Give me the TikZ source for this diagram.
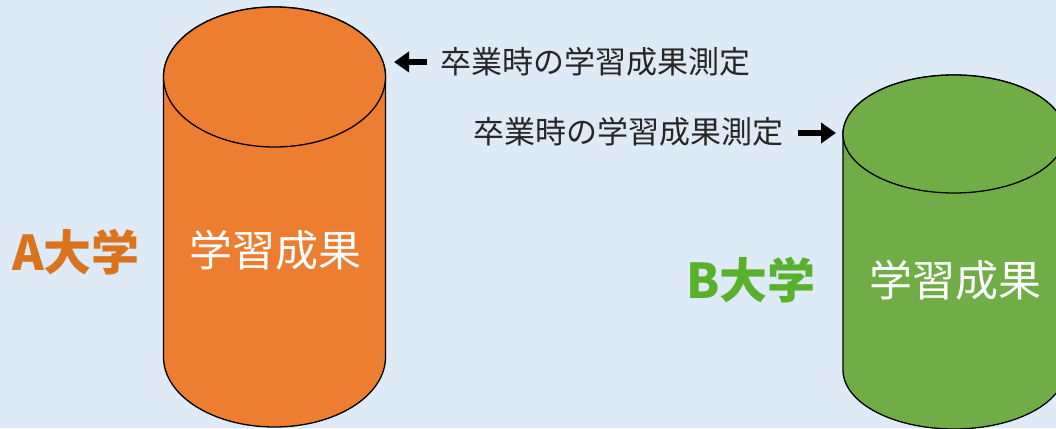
\documentclass[tikz,border=0pt]{standalone}
\usepackage{fontspec}
\setmainfont{Noto Sans CJK JP}
\usetikzlibrary{arrows.meta}
\definecolor{bg}{HTML}{DEEAF6}
\definecolor{orangefill}{HTML}{ED7D31}
\definecolor{greenfill}{HTML}{70AD47}
\definecolor{orangetext}{RGB}{217,115,30}
\definecolor{greentext}{RGB}{88,176,44}
\tikzset{
  cyl/.style={draw=black, line width=1.3pt},
  inner/.style={text=white, font=\fontsize{43}{43}\selectfont, inner sep=0pt},
  uni/.style={font=\bfseries\fontsize{48}{48}\selectfont, inner sep=0pt},
  lab/.style={text=black!85, font=\fontsize{31}{31}\selectfont, inner sep=0pt},
  blockarrow/.style={line width=6pt, -{Triangle[length=15pt,width=20pt]}}
}
\begin{document}
\begin{tikzpicture}[x=1pt,y=1pt]
\fill[bg] (0,0) rectangle (1056,428);
\useasboundingbox (0,0) rectangle (1056,428);
% orange cylinder
\filldraw[cyl, fill=orangefill] (163.5,351) -- (163.5,71)
  arc[start angle=180,end angle=360,x radius=111,y radius=70] -- (385.5,351)
  arc[start angle=0,end angle=180,x radius=111,y radius=70] -- cycle;
\filldraw[cyl, fill=orangefill] (274.5,351) ellipse[x radius=111,y radius=70];
% green cylinder
\filldraw[cyl, fill=greenfill] (843,294) -- (843,58)
  arc[start angle=180,end angle=360,x radius=111,y radius=59] -- (1065,294)
  arc[start angle=0,end angle=180,x radius=111,y radius=59] -- cycle;
\filldraw[cyl, fill=greenfill] (954,294) ellipse[x radius=111,y radius=59];
% texts
\node[inner] (ta) at (275,178) {学習成果};
\node[inner] (tb) at (955,148) {学習成果};
\node[uni, text=orangetext] (ua) at (76,176) {A大学};
\node[uni, text=greentext] (ub) at (751,148) {B大学};
\node[lab, anchor=west] (la) at (440,366) {卒業時の学習成果測定};
\node[lab, anchor=east] (lb) at (784,296) {卒業時の学習成果測定};
% arrows
\coordinate (ha) at (394,366);
\coordinate (hb) at (836,295);
\draw[blockarrow] ([xshift=-13pt]la.west) -- (ha);
\draw[blockarrow] ([xshift=14pt,yshift=-1pt]lb.east) -- (hb);
\end{tikzpicture}
\end{document}
